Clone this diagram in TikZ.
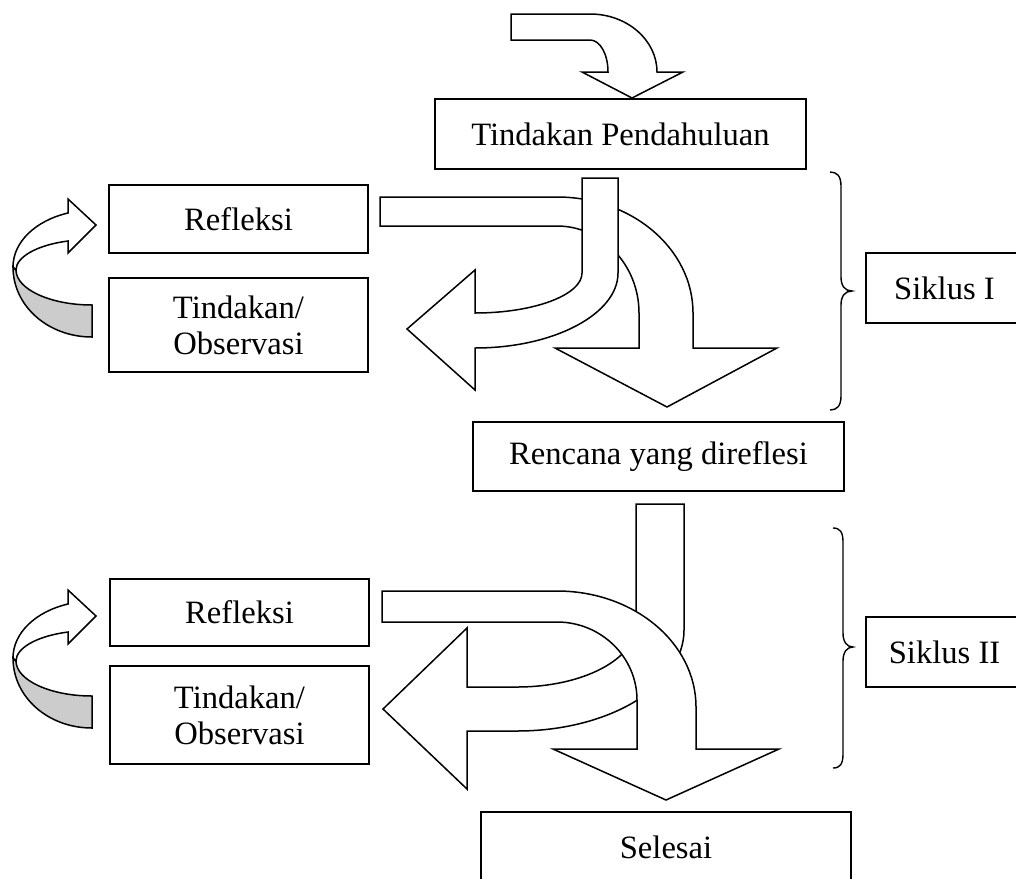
\documentclass[tikz,border=0pt]{standalone}
\usepackage{fontspec}
\setmainfont{Liberation Serif}
\usepackage{tikz}

\begin{document}
\begin{tikzpicture}[x=0.5pt,y=-0.5pt,
  kotak/.style={draw, line width=0.85pt, fill=white, inner sep=0pt, align=center,
    font=\fontsize{16.3}{18}\selectfont},
  panah/.style={draw, line width=0.75pt, fill=white, line join=miter},
  pita/.style={draw, line width=0.75pt, fill=black!20},
  kurung/.style={draw, line width=0.7pt}]

  %--- Bingkai ---
  \useasboundingbox (0,0) rectangle (1016,878);
  \clip (0,0) rectangle (1016,878);

  %--- Panah masuk (atas) ---
  \path[panah] (511,14) -- (590,14) .. controls (627,14) and (657,40) .. (657,72)
    -- (683,72) -- (632,98) -- (582,72) -- (608,72)
    .. controls (608,54) and (600,40) .. (590,40) -- (511,40) -- cycle;

  %--- Siklus I : panah refleksi ke bawah ---
  \path[panah] (380,197) -- (557,197) .. controls (632,197) and (693,249) .. (693,313)
    -- (693,348) -- (777,348) -- (667,407) -- (555,348) -- (639,348) -- (639,313)
    .. controls (639,265) and (602,226) .. (557,226) -- (380,226) -- cycle;

  %--- Siklus I : panah tindakan ke kiri ---
  \path[panah] (582,178) -- (618,178) -- (618,273)
    .. controls (618,314) and (554,348) .. (475,348)
    -- (475,390) -- (407,329) -- (475,270) -- (475,313)
    .. controls (534,313) and (582,295) .. (582,273) -- cycle;

  %--- Siklus II : panah tindakan ke kiri ---
  \path[panah] (636,504) -- (684,504) -- (684,630)
    .. controls (684,686) and (609,731) .. (517,731)
    -- (467,731) -- (467,789) -- (383,709) -- (467,628) -- (467,687) -- (517,687)
    .. controls (583,687) and (636,659) .. (636,625) -- cycle;

  %--- Siklus II : panah refleksi ke bawah ---
  \path[panah] (382,591) -- (557,591) .. controls (634,591) and (696,643) .. (696,707)
    -- (696,749) -- (779,749) -- (666,800) -- (553,749) -- (637,749) -- (637,700)
    .. controls (637,657) and (601,622) .. (557,622) -- (382,622) -- cycle;

  %--- Panah melingkar (kiri) ---
  \foreach \dy in {0,391} {
    \begin{scope}[shift={(0,\dy)}]
      \path[pita] (16,270) .. controls (16,289) and (50,305) .. (92,305)
        -- (92,337) .. controls (48,337) and (13,306) .. (13,267) -- cycle;
      \path[panah] (13,267) .. controls (13,242) and (35.5,220.6) .. (68,213)
        -- (68,199) -- (96,225) -- (68,253) -- (68,241)
        .. controls (37,245) and (16,257) .. (16,270) -- cycle;
    \end{scope}
  }

  %--- Kurung kurawal ---
  \path[kurung] (830,172) .. controls (837,172) and (841,176) .. (841,186) -- (841,277)
    .. controls (841,286) and (845,291) .. (852,291)
    .. controls (845,291) and (841,296) .. (841,305) -- (841,396)
    .. controls (841,406) and (837,410) .. (830,410);
  \path[kurung] (833,528) .. controls (840,528) and (843,532) .. (843,542) -- (843,633)
    .. controls (843,642) and (847,647) .. (853,647)
    .. controls (847,647) and (843,652) .. (843,661) -- (843,754)
    .. controls (843,764) and (840,768) .. (833,768);

  %--- Kotak ---
  \node[kotak, minimum width=185.5pt, minimum height=35pt] (pend) at (620.5,134) {Tindakan Pendahuluan};
  \node[kotak, minimum width=129.5pt, minimum height=34pt] (refI) at (238.5,219) {Refleksi};
  \node[kotak, minimum width=129.5pt, minimum height=47pt] (tinI) at (238.5,325) {Tindakan/\\Observasi};
  \node[kotak, minimum width=185.5pt, minimum height=34.5pt] (renc) at (658.5,456.5) {Rencana yang direflesi};
  \node[kotak, minimum width=129.5pt, minimum height=33.5pt] (refII) at (239.5,612.5) {Refleksi};
  \node[kotak, minimum width=129.5pt, minimum height=49pt] (tinII) at (239.5,715) {Tindakan/\\Observasi};
  \node[kotak, minimum width=185pt, minimum height=35pt] (sel) at (666,847) {Selesai};
  \node[kotak, minimum width=78.5pt, minimum height=35pt] (sikI) at (944.5,288) {Siklus I};
  \node[kotak, minimum width=78.5pt, minimum height=35pt] (sikII) at (944.5,652) {Siklus II};

\end{tikzpicture}
\end{document}
